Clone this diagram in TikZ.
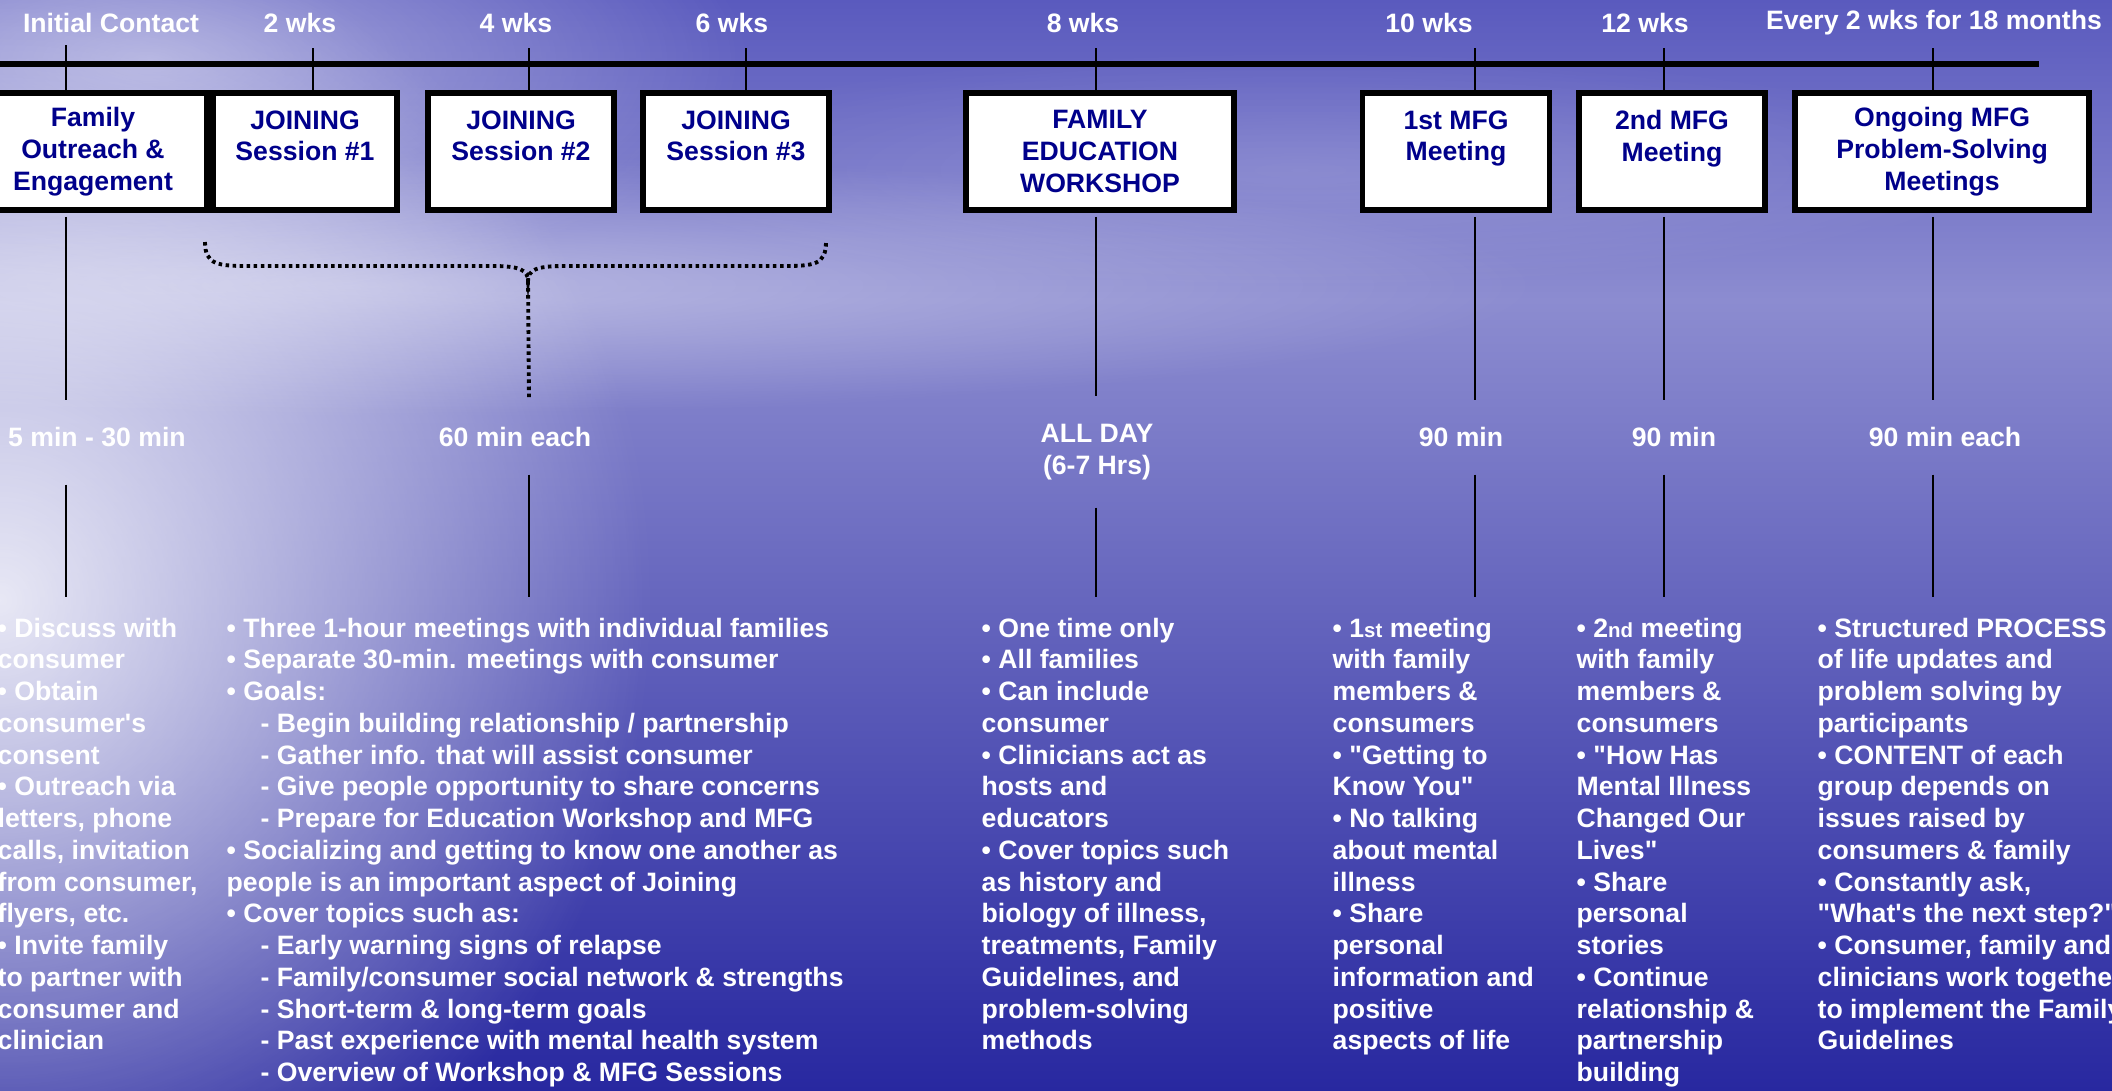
\documentclass[tikz,border=0pt]{standalone}
\usepackage{fontspec}
\setmainfont{Liberation Sans}[Ligatures=TeXOff]
\usetikzlibrary{fadings}

\definecolor{boxnavy}{RGB}{0,0,139}
\definecolor{skytop}{RGB}{90,90,190}
\definecolor{horizon}{RGB}{140,140,208}
\definecolor{seamid}{RGB}{66,66,174}
\definecolor{seadeep}{RGB}{40,40,160}

\tikzfading[name=softglow, inner color=transparent!0, outer color=transparent!100]

\newcommand{\slidefont}{\fontsize{7.57pt}{9.03pt}\selectfont\bfseries}
\newcommand{\ind}{\hspace*{0.34cm}}
\newcommand{\ordsfx}[1]{{\fontsize{5.8pt}{5.8pt}\selectfont #1}}

\begin{document}
\begin{tikzpicture}[x=0.01cm, y=-0.01cm,
    every node/.style={font=\slidefont, text=white},
    stagebox/.style={draw=black, line width=1.6pt, fill=white, text=boxnavy, align=center, minimum height=1.17cm, inner sep=0pt},
    timetag/.style={inner sep=1pt},
    lengthtag/.style={align=center, inner xsep=1pt, inner ysep=0.27cm},
    notetext/.style={align=left, anchor=north west, inner sep=0pt},
    tickline/.style={draw, line width=0.6pt},
    vline/.style={draw, line width=0.6pt},
    dotbrace/.style={draw, line width=1.1pt, dash pattern=on 1pt off 1pt},
    glow/.style={fill=white, path fading=softglow}]

    \useasboundingbox (0,0) rectangle (2112,1090);
    \shade[top color=skytop, bottom color=horizon] (0,0) rectangle (2112,300);
    \shade[top color=horizon, middle color=seamid, bottom color=seadeep] (0,300) rectangle (2112,1090);
    \fill[glow, opacity=0.85] (0,600) ellipse [x radius=6.5cm, y radius=7cm];
    \fill[glow, opacity=0.45] (150,60) ellipse [x radius=6cm, y radius=2.4cm];
    \fill[glow, opacity=0.4] (350,285) ellipse [x radius=12cm, y radius=1.3cm];
    \fill[glow, opacity=0.15] (1300,170) ellipse [x radius=7cm, y radius=1.2cm];

    \coordinate (lineL) at (0,64);
    \coordinate (lineR) at (2039,64);
    \draw[line width=1.45pt] (lineL) -- (lineR);

    \node[timetag] (w0) at (111,23) {Initial Contact};
    \node[timetag] (w2) at (300,23) {2 wks};
    \node[timetag] (w4) at (516,23) {4 wks};
    \node[timetag] (w6) at (732,23) {6 wks};
    \node[timetag] (w8) at (1083,23) {8 wks};
    \node[timetag] (w10) at (1429,23) {10 wks};
    \node[timetag] (w12) at (1645,23) {12 wks};
    \node[timetag] (wall) at (1934,23) {Every 2 wks for 18 months};

    \coordinate (k0) at (66,45);
    \coordinate (k1) at (313,48);
    \coordinate (k2) at (529,48);
    \coordinate (k3) at (746,48);
    \coordinate (k4) at (1096,48);
    \coordinate (k5) at (1475,48);
    \coordinate (k6) at (1664,48);
    \coordinate (k7) at (1933,48);

    \node[stagebox, minimum width=2.28cm] (fam) at (93,151.5) {Family\\Outreach \&\\Engagement};
    \node[stagebox, minimum width=1.84cm] (join1) at (305,151.5) {JOINING\\Session \#1\\\mbox{}};
    \node[stagebox, minimum width=1.86cm] (join2) at (521,151.5) {JOINING\\Session \#2\\\mbox{}};
    \node[stagebox, minimum width=1.86cm] (join3) at (736,151.5) {JOINING\\Session \#3\\\mbox{}};
    \node[stagebox, minimum width=2.68cm] (edu) at (1100,151.5) {FAMILY\\EDUCATION\\WORKSHOP};
    \node[stagebox, minimum width=1.87cm] (mfg1) at (1456,151.5) {1st MFG\\Meeting\\\mbox{}};
    \node[stagebox, minimum width=1.86cm] (mfg2) at (1672,151.5) {2nd MFG\\Meeting\\\mbox{}};
    \node[stagebox, minimum width=2.94cm] (ongo) at (1942,151.5) {Ongoing MFG\\Problem-Solving\\Meetings};

    \draw[tickline] (k0) -- (k0 |- fam.north);
    \draw[tickline] (k1) -- (k1 |- join1.north);
    \draw[tickline] (k2) -- (k2 |- join2.north);
    \draw[tickline] (k3) -- (k3 |- join3.north);
    \draw[tickline] (k4) -- (k4 |- edu.north);
    \draw[tickline] (k5) -- (k5 |- mfg1.north);
    \draw[tickline] (k6) -- (k6 |- mfg2.north);
    \draw[tickline] (k7) -- (k7 |- ongo.north);

    \node[lengthtag] (d0) at (97,437) {5 min - 30 min};
    \node[lengthtag] (d2) at (515,437) {60 min each};
    \node[lengthtag] (d4) at (1097,452) {ALL DAY\\(6-7 Hrs)};
    \node[lengthtag] (d5) at (1461,437) {90 min};
    \node[lengthtag] (d6) at (1674,437) {90 min};
    \node[lengthtag] (d7) at (1945,437) {90 min each};

    \coordinate (bl) at (205,242);
    \coordinate (bt) at (528,281);
    \coordinate (br) at (826,242);
    \draw[dotbrace] (bl) .. controls (205,265) and (218,266) .. (250,266) -- (492,266)
        .. controls (520,266) and (528,270) .. (bt)
        .. controls (528,270) and (536,266) .. (564,266) -- (782,266)
        .. controls (814,266) and (826,265) .. (br);
    \draw[dotbrace] (bt) -- (k2 |- d2.north);

    \node[notetext] (n0) at (-3,617) {• Discuss with\\consumer\\• Obtain\\consumer's\\consent\\• Outreach via\\letters, phone\\calls, invitation\\from consumer,\\flyers, etc.\\• Invite family\\to partner with\\consumer and\\clinician};
    \node[notetext] (n2) at (226,617) {• Three 1-hour meetings with individual families\\• Separate 30-min. meetings with consumer\\• Goals:\\\ind- Begin building relationship / partnership\\\ind- Gather info. that will assist consumer\\\ind- Give people opportunity to share concerns\\\ind- Prepare for Education Workshop and MFG\\• Socializing and getting to know one another as\\people is an important aspect of Joining\\• Cover topics such as:\\\ind- Early warning signs of relapse\\\ind- Family/consumer social network \& strengths\\\ind- Short-term \& long-term goals\\\ind- Past experience with mental health system\\\ind- Overview of Workshop \& MFG Sessions};
    \node[notetext] (n4) at (981,617) {• One time only\\• All families\\• Can include\\consumer\\• Clinicians act as\\hosts and\\educators\\• Cover topics such\\as history and\\biology of illness,\\treatments, Family\\Guidelines, and\\problem-solving\\methods};
    \node[notetext] (n5) at (1332,617) {• 1\ordsfx{st} meeting\\with family\\members \&\\consumers\\• "Getting to\\Know You"\\• No talking\\about mental\\illness\\• Share\\personal\\information and\\positive\\aspects of life};
    \node[notetext] (n6) at (1576,617) {• 2\ordsfx{nd} meeting\\with family\\members \&\\consumers\\• "How Has\\Mental Illness\\Changed Our\\Lives"\\• Share\\personal\\stories\\• Continue\\relationship \&\\partnership\\building};
    \node[notetext] (n7) at (1817,617) {• Structured PROCESS\\of life updates and\\problem solving by\\participants\\• CONTENT of each\\group depends on\\issues raised by\\consumers \& family\\• Constantly ask,\\"What's the next step?"\\• Consumer, family and\\clinicians work together\\to implement the Family\\Guidelines};

    \draw[vline, shorten <=0.04cm] (k0 |- fam.south) -- (k0 |- d0.north);
    \draw[vline, shorten <=0.04cm] (k4 |- edu.south) -- (k4 |- d4.north);
    \draw[vline, shorten <=0.04cm] (k5 |- mfg1.south) -- (k5 |- d5.north);
    \draw[vline, shorten <=0.04cm] (k6 |- mfg2.south) -- (k6 |- d6.north);
    \draw[vline, shorten <=0.04cm] (k7 |- ongo.south) -- (k7 |- d7.north);

    \draw[vline, shorten <=0.1cm, shorten >=0.2cm] (k0 |- d0.south) -- (k0 |- n0.north);
    \draw[vline, shorten >=0.2cm] (k2 |- d2.south) -- (k2 |- n2.north);
    \draw[vline, shorten >=0.2cm] (k4 |- d4.south) -- (k4 |- n4.north);
    \draw[vline, shorten >=0.2cm] (k5 |- d5.south) -- (k5 |- n5.north);
    \draw[vline, shorten >=0.2cm] (k6 |- d6.south) -- (k6 |- n6.north);
    \draw[vline, shorten >=0.2cm] (k7 |- d7.south) -- (k7 |- n7.north);
\end{tikzpicture}
\end{document}
